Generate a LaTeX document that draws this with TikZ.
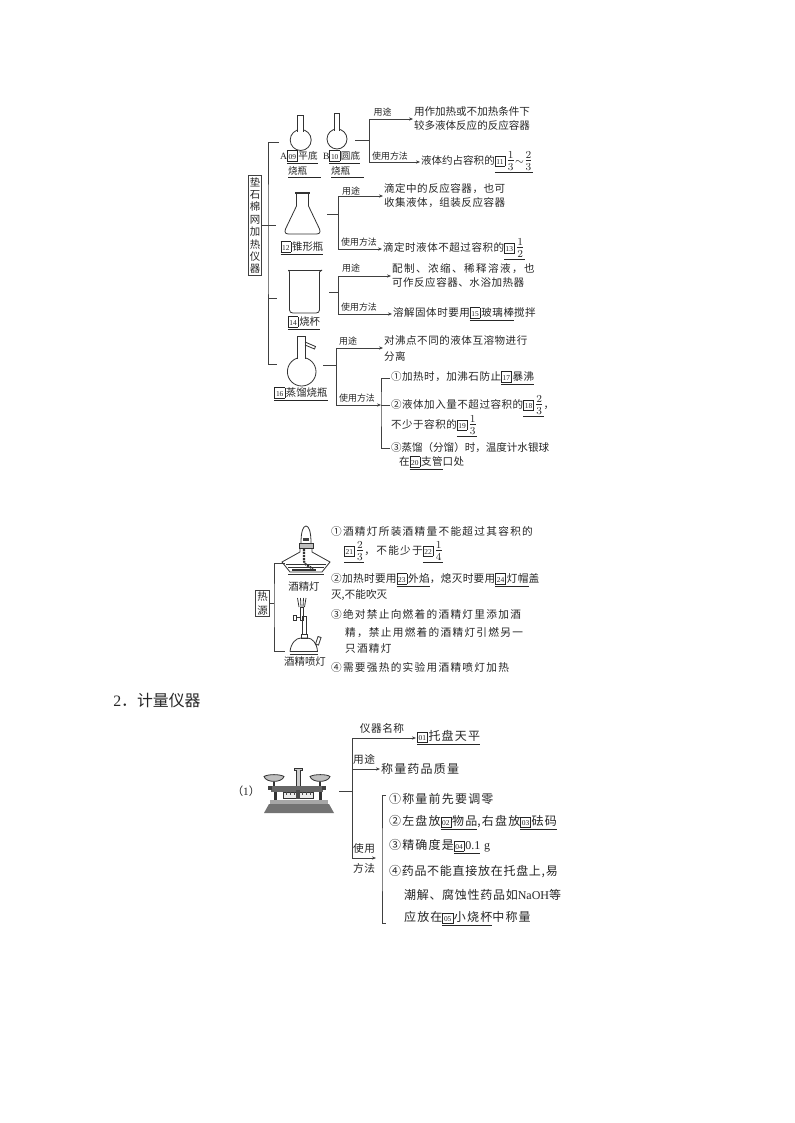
\documentclass[tikz,border=0pt]{standalone}
\usepackage[no-math]{fontspec}
\usepackage{amsmath}
\setmainfont{Noto Sans CJK SC}
\newfontfamily\latinfont{Liberation Serif}
\usetikzlibrary{arrows.meta}
\newcommand{\numbox}[1]{{\fboxsep=0.2pt\fboxrule=0.35pt\fbox{\makebox[6.8pt]{\rule[-0.8pt]{0pt}{7pt}\fontsize{5.6pt}{5.6pt}\latinfont\selectfont #1}}\hspace{0.7pt}}}
\newcommand{\ans}[2]{$\underline{\hbox{\numbox{#1}#2}}$}
\newcommand{\fr}[2]{{\fontsize{12}{14}\selectfont$\frac{#1}{#2}$}}
\tikzset{
	linestyle/.style={draw=black!75,line width=0.6pt},
	arrowstyle/.style={linestyle,-{Stealth[length=3pt,width=2.4pt]}},
	iconstyle/.style={draw=black!80,line width=0.6pt},
	usestyle/.style={anchor=west,inner sep=0.6pt,align=left,text=black!85,font=\fontsize{7.9}{10.5}\selectfont},
	widestyle/.style={usestyle,font=\fontsize{7.9}{10.5}\selectfont\addfontfeature{LetterSpace=5}},
	lampstyle/.style={usestyle,font=\fontsize{8}{10}\selectfont\addfontfeature{LetterSpace=12}},
	scalestyle/.style={usestyle,font=\fontsize{9}{12}\selectfont\addfontfeature{LetterSpace=10}},
	tightstyle/.style={usestyle,font=\fontsize{9}{12}\selectfont\addfontfeature{LetterSpace=6}},
	tagstyle/.style={inner sep=0pt,text=black!85,font=\fontsize{6.7}{8}\selectfont},
	bigtagstyle/.style={inner sep=0pt,text=black!85,font=\fontsize{8}{10}\selectfont\addfontfeature{LetterSpace=5}},
	namestyle/.style={inner sep=0pt,text=black!85,font=\fontsize{7.8}{10}\selectfont},
	boxstyle/.style={linestyle,inner sep=1.2pt,align=center,text=black!85}
}
\begin{document}
\begin{tikzpicture}[x=0.75pt,y=-0.75pt]
	\useasboundingbox[fill=white] (0,0) rectangle (794,1123);
	% heating group
	\node[boxstyle,font=\fontsize{7.8}{9.3}\selectfont] (hotbox) at (255,225.5) {垫\\石\\棉\\网\\加\\热\\仪\\器};
	\coordinate (mainj) at (268,225.5);
	\coordinate (taga) at (279,142);
	\coordinate (tagb) at (276,225.5);
	\coordinate (tagc) at (277,298);
	\coordinate (tagd) at (277,364);
	\draw[linestyle] (taga) -| (mainj) |- (tagd);
	\draw[linestyle] (hotbox) -- (tagb);
	\draw[linestyle] (mainj |- tagc) -- (tagc);
	% flasks
	\draw[iconstyle] (300.7,140) circle [radius=10.5];
	\draw[iconstyle,fill=white] (297.5,132) -- (297.5,115) -- (303.5,115) -- (303.5,132);
	\draw[iconstyle] (337,139) circle [radius=10];
	\draw[iconstyle,fill=white] (334.5,131) -- (334.5,113) -- (339.7,113) -- (339.7,131);
	\node[usestyle,font=\fontsize{7.2}{9}\selectfont] (alabel) at (279,157) {{\latinfont A}\ans{09}{平底}};
	\node[usestyle,font=\fontsize{7.2}{9}\selectfont] (blabel) at (322,157) {{\latinfont B}\ans{10}{圆底}};
	\node[usestyle,font=\fontsize{7.2}{9}\selectfont] (aname) at (287,172) {$\underline{\hbox to 24.5pt{\hspace{0pt}烧瓶\hfil}}$};
	\node[usestyle,font=\fontsize{7.2}{9}\selectfont] (bname) at (330,172) {$\underline{\hbox to 24.5pt{\hspace{0pt}烧瓶\hfil}}$};
	\coordinate (fa) at (355,140);
	\coordinate (ja) at (369,140);
	\node[usestyle] (ause) at (413,119) {用作加热或不加热条件下\\较多液体反应的反应容器};
	\node[usestyle] (ameth) at (420,162) {液体约占容积的\ans{11}{\fr{1}{3}$\sim$\fr{2}{3}}};
	\node[tagstyle] at (382.5,112) {用途};
	\node[tagstyle] at (390,156) {使用方法};
	\draw[linestyle] (fa) -- (ja);
	\draw[arrowstyle] (ja) |- (ause);
	\draw[arrowstyle] (ja) |- (ameth);
	% conical flask
	\draw[iconstyle] (296.5,194) -- (296.5,206) -- (285.5,229) .. controls (284,233) and (286,234) .. (289,234) -- (316,234) .. controls (319,234) and (321,233) .. (319.5,229) -- (308.5,206) -- (308.5,194);
	\draw[iconstyle,line width=1pt] (295,193) -- (310,193);
	\node[namestyle] (bname2) at (302,248) {\ans{12}{锥形瓶}};
	\coordinate (fb) at (327,214);
	\coordinate (jb) at (338.5,214);
	\node[widestyle] (buse) at (383,196) {滴定中的反应容器，也可\\收集液体，组装反应容器};
	\node[widestyle] (bmeth) at (382,249) {滴定时液体不超过容积的\ans{13}{\fr{1}{2}}};
	\node[tagstyle] at (351,191) {用途};
	\node[tagstyle] at (359,242) {使用方法};
	\draw[linestyle] (fb) -- (jb);
	\draw[arrowstyle] (jb) |- (buse);
	\draw[arrowstyle] (jb) |- (bmeth);
	% beaker
	\draw[iconstyle] (288,270) -- (322,270);
	\draw[iconstyle] (288.5,270) -- (289.5,272) -- (289.5,310) .. controls (289.5,312) and (291,313) .. (293,313) -- (316,313) .. controls (318,313) and (319.5,312) .. (319.5,310) -- (319.5,272) -- (322,270);
	\node[namestyle] (cname) at (304,323) {\ans{14}{烧杯}};
	\coordinate (fc) at (329,292);
	\coordinate (jc) at (338.5,292);
	\node[usestyle] (cuse) at (391,276) {{\addfontfeature{LetterSpace=14}配制、浓缩、稀释溶液，也}\\{\addfontfeature{LetterSpace=5}可作反应容器、水浴加热器}};
	\node[widestyle] (cmeth) at (392,314) {溶解固体时要用\ans{15}{玻璃棒}搅拌};
	\node[tagstyle] at (351,268) {用途};
	\node[tagstyle] at (359,307) {使用方法};
	\draw[linestyle] (fc) -- (jc);
	\draw[arrowstyle] (jc) |- (cuse);
	\draw[arrowstyle] (jc) |- (cmeth);
	% distilling flask
	\draw[iconstyle] (301.7,371.7) circle [radius=14.3];
	\draw[iconstyle,fill=white] (297,359) -- (297,336) -- (305,336) -- (305,359);
	\draw[iconstyle] (305,342) -- (315.5,346.5) -- (314.5,349) -- (305,345);
	\node[namestyle] (dname) at (301,394) {\ans{16}{蒸馏烧瓶}};
	\coordinate (fd) at (323,365);
	\coordinate (jd) at (336,365);
	\coordinate (jt) at (381,405);
	\node[widestyle] (duse) at (383,348) {对沸点不同的液体互溶物进行\\[1.5pt]分离};
	\node[widestyle] (done) at (390,378) {①加热时，加沸石防止\ans{17}{暴沸}};
	\node[widestyle] (dtwo) at (390,406) {②液体加入量不超过容积的\ans{18}{\fr{2}{3}}，};
	\node[widestyle] (dtwob) at (390,426) {不少于容积的\ans{19}{\fr{1}{3}}};
	\node[usestyle] (dthree) at (390,448) {③蒸馏（分馏）时，温度计水银球};
	\node[widestyle] (dthreeb) at (398,463) {在\ans{20}{支管}口处};
	\node[tagstyle] at (348,341) {用途};
	\node[tagstyle] at (357,398) {使用方法};
	\draw[linestyle] (fd) -- (jd);
	\draw[arrowstyle] (jd) |- (duse);
	\draw[arrowstyle] (jd) |- (jt);
	\draw[linestyle] (done) -| (jt) |- (dthree);
	\draw[linestyle] (jt) -- (dtwo.west |- jt);
	% heat sources
	\node[boxstyle,font=\fontsize{7.8}{10.5}\selectfont] (srcbox) at (262.5,603.5) {热\\源};
	\coordinate (srctop) at (285,563);
	\coordinate (srcbot) at (285,651);
	\coordinate (srcj) at (274,603.5);
	\draw[linestyle] (srctop) -| (srcj) |- (srcbot);
	\draw[linestyle] (srcbox) -- (srcj);
	% alcohol lamp
	\draw[iconstyle] (301,543) .. controls (301,532) and (303,526) .. (306,526) .. controls (309,526) and (311,532) .. (311,543);
	\draw[iconstyle,fill=black!25] (299,543) rectangle (313,548);
	\fill[black!75] (303,538) rectangle (309,541);
	\draw[iconstyle] (300,548) -- (300,552) -- (282,562) -- (290,572) -- (322,572) -- (330,562) -- (312,552) -- (312,548);
	\draw[iconstyle] (286,564) -- (326,564);
	\draw[iconstyle] (288,567) -- (324,567);
	\draw[iconstyle,line width=1.6pt,dash pattern=on 1.5pt off 0.7pt] (304,549) -- (304,561) .. controls (304,566) and (310,565) .. (313,570);
	\draw[iconstyle,line width=1pt] (292,570) -- (316,570);
	\draw[iconstyle] (288,574) -- (324,574);
	\node[namestyle] (lampname) at (304,587) {酒精灯};
	% alcohol burner
	\draw[iconstyle] (299,607) -- (297.5,598);
	\draw[iconstyle] (301,607) -- (300.5,598);
	\draw[iconstyle] (303,607) -- (303.5,598);
	\draw[iconstyle] (304.5,607) -- (306,598);
	\draw[iconstyle] (300,607) rectangle (303.5,620);
	\draw[iconstyle] (293.5,615) rectangle (296.5,620);
	\draw[iconstyle] (296.5,617.5) -- (300,617.5);
	\draw[iconstyle] (302,616) rectangle (306.5,634);
	\draw[iconstyle] (301,634) rectangle (307.5,638);
	\draw[iconstyle] (290,651.5) .. controls (291,643) and (296,638) .. (301,638) -- (307.5,638) .. controls (312,638) and (317,643) .. (317.5,651.5);
	\draw[iconstyle] (289.5,651.5) -- (318,651.5);
	\draw[iconstyle] (289.5,654) -- (318,654);
	\draw[iconstyle] (315.5,644) -- (318,636.5) -- (321,637.5) -- (318.5,645) -- cycle;
	\node[namestyle] (burnername) at (305,662) {酒精喷灯};
	% lamp notes
	\node[lampstyle] (ln1) at (330,531) {①酒精灯所装酒精量不能超过其容积的};
	\node[lampstyle] (ln2) at (343,552) {\ans{21}{\fr{2}{3}}，不能少于\ans{22}{\fr{1}{4}}};
	\node[usestyle,font=\fontsize{8}{10}\selectfont\addfontfeature{LetterSpace=3}] (ln3) at (330,580) {②加热时要用\ans{23}{外焰}，熄灭时要用\ans{24}{灯帽}盖};
	\node[usestyle,font=\fontsize{8}{10}\selectfont] (ln4) at (330,595) {灭,不能吹灭};
	\node[lampstyle] (ln5) at (330,614) {③绝对禁止向燃着的酒精灯里添加酒};
	\node[lampstyle] (ln6) at (344,633) {精，禁止用燃着的酒精灯引燃另一};
	\node[lampstyle] (ln7) at (344,648) {只酒精灯};
	\node[lampstyle] (ln8) at (330,667) {④需要强热的实验用酒精喷灯加热};
	% measuring section
	\node[anchor=west,inner sep=0pt,text=black!85,font=\fontsize{11.9}{14}\selectfont] (head) at (113,701) {{\latinfont 2}．计量仪器};
	\node[namestyle,font=\fontsize{8.4}{10}\selectfont] (one) at (246,791) {（{\latinfont 1}）};
	% balance
	\fill[black!55] (264,813) -- (334,813) -- (329,804) -- (269,804) -- cycle;
	\fill[black!35] (270,804) rectangle (328,799.5);
	\draw[iconstyle,fill=black!20] (294,768) -- (302,768) -- (302,770) -- (300.5,770) -- (300.5,786) -- (296,786) -- (296,770) -- (294,770) -- cycle;
	\draw[iconstyle,fill=black!25] (264,776.5) .. controls (268,774) and (280,774) .. (284,776.5) .. controls (282,783) and (266,783) .. (264,776.5) -- cycle;
	\draw[iconstyle,fill=black!25] (310,776.5) .. controls (314,774) and (327,774) .. (330,776.5) .. controls (328,783) and (312,783) .. (310,776.5) -- cycle;
	\draw[iconstyle,line width=1pt] (274,782) -- (274,787);
	\draw[iconstyle,line width=1pt] (320,782) -- (320,787);
	\fill[black!60] (271,786) rectangle (323,792);
	\fill[black!75] (268,786) rectangle (272,790);
	\fill[black!75] (322,786) rectangle (326,790);
	\draw[iconstyle,fill=black!8] (283,792) rectangle (313,798);
	\draw[black!70,line width=0.3pt] (286,792) -- (286,795) (290,792) -- (290,795) (294,792) -- (294,795) (302,792) -- (302,795) (306,792) -- (306,795) (310,792) -- (310,795);
	\fill[black!70] (296,790) rectangle (300,799);
	\fill[black!80] (274,792) rectangle (277,800);
	\fill[black!80] (319,792) rectangle (322,800);
	\coordinate (scale) at (339,791);
	\coordinate (js) at (352,791);
	\node[scalestyle] (sname) at (416,738) {\ans{01}{托盘天平}};
	\node[scalestyle] (suse) at (380,769) {称量药品质量};
	\coordinate (smeth) at (376,858);
	\node[bigtagstyle] at (382,728) {仪器名称};
	\node[bigtagstyle] at (364,759) {用途};
	\node[bigtagstyle] at (364,848) {使用};
	\node[bigtagstyle] at (364,868) {方法};
	\draw[linestyle] (scale) -- (js);
	\draw[arrowstyle] (js) |- (sname);
	\draw[arrowstyle] (js) |- (suse);
	\draw[arrowstyle] (js) |- (smeth);
	\coordinate (brt) at (386,795);
	\coordinate (brb) at (386,923);
	\coordinate (brj) at (382,860);
	\draw[linestyle] (brt) -| (brj) |- (brb);
	\node[scalestyle] (s1) at (388,799) {①称量前先要调零};
	\node[scalestyle] (s2) at (388,823) {②左盘放\ans{02}{物品},右盘放\ans{03}{砝码}};
	\node[scalestyle] (s3) at (388,847) {③精确度是\ans{04}{{\latinfont 0.1}} {\latinfont g}};
	\node[tightstyle] (s4) at (388,872) {④药品不能直接放在托盘上,易};
	\node[tightstyle] (s5) at (403,895) {潮解、腐蚀性药品如{\latinfont NaOH}等};
	\node[scalestyle] (s6) at (403,919) {应放在\ans{05}{小烧杯}中称量};
\end{tikzpicture}
\end{document}
